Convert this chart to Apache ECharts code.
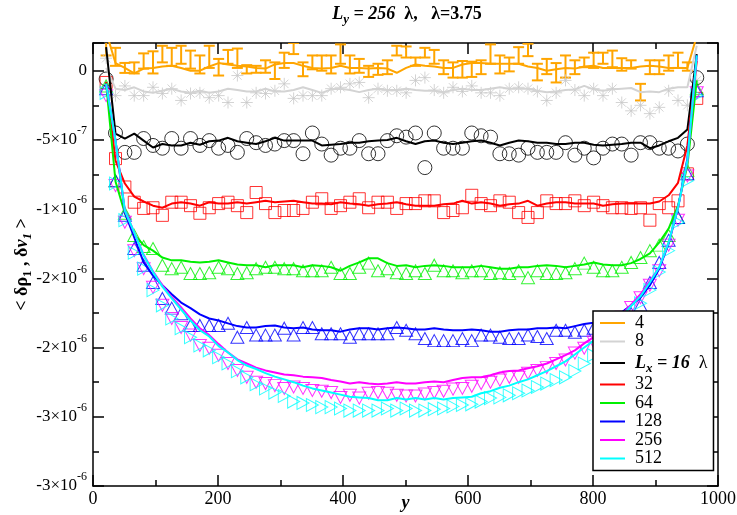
<!DOCTYPE html>
<html>
<head>
<meta charset="utf-8">
<script src="https://cdn.jsdelivr.net/npm/echarts@6/dist/echarts.min.js"></script>
<style>
  html, body { margin: 0; padding: 0; background: #fff; }
  #chart { width: 737px; height: 515px; }
</style>
</head>
<body>
<div id="chart"></div>
<script>
// y values are in units of 1e-7
const xs = [21, 36, 51, 66, 81, 96, 111, 126, 141, 156, 171, 186, 201, 216, 231, 246, 261, 276, 291, 306,
  321, 336, 351, 366, 381, 396, 411, 426, 441, 456, 471, 486, 501, 516, 531, 546, 561, 576, 591, 606,
  621, 636, 651, 666, 681, 696, 711, 726, 741, 756, 771, 786, 801, 816, 831, 846, 861, 876, 891, 906,
  921, 936, 951, 966];

const line4 = [2.8, 0.55, 0.2, -0.2, 0.15, 0.2, 0.3, 0.35, 0.2, 0,
  0, 0.3, 0.55, 0.45, 0.35, 0.3, 0.2, 0.15, 0.45, 0.55,
  0.55, 0.35, 0.2, 0.15, 0.2, 0.35, 0.2, 0.2, 0.15, 0.2,
  0.15, -0.15, 0.2, 0.45, 0.35, 0.3, 0.2, 0.2, 0.45, 0.55,
  0.55, 0.5, 0.5, 0.5, 0.5, 0.3, 0.2, 0, 0.1, 0.2,
  0.15, 0.3, 0.35, 0.2, 0.2, 0.2, 0.2, 0.3, 0.35, 0.3,
  0.2, 0.2, 0.2, 2.5];
const mean4 = [1.6, 1.0, 0.2, 0.2, 0.7, 0.6, 1.2, 1.0, 1.15, 0.8,
  0.45, 1.0, 0.25, 1.0, 0.9, 0.1, 0.1, 0.3, 0.0, 0.75,
  1.6, 0.1, 0.6, 0.55, 0.45, 1.2, 0.45, 0.35, -0.05, 0.1,
  0.25, 1.45, 1.35, 0.65, 1.3, 1.0, 0.25, 0.05, 0.1, 0.1,
  0.25, 1.2, 0.45, 0.45, 1.1, 1.5, -0.1, 0.3, -0.15, 0.3,
  0.25, 0.6, 0.75, 0.9, 0.85, 0.45, 0.45, -1.55, 0.25, 0.25,
  0.55, 0.75, 0.3, 2.4];
const err4 = [0.5, 0.65, 0.36, 0.4, 0.55, 0.8, 0.6, 0.65, 0.65, 0.65,
  0.65, 0.8, 0.6, 0.5, 0.7, 0.3, 0.25, 0.45, 0.6, 0.55,
  0.4, 0.5, 0.5, 0.55, 0.65, 0.7, 0.65, 0.5, 0.4, 0.4,
  0.5, 0.35, 0.4, 0.3, 0.35, 0.5, 0.5, 0.55, 0.6, 0.55,
  0.5, 0.7, 0.65, 0.5, 0.6, 0.45, 0.6, 0.55, 0.7, 0.8,
  0.5, 0.35, 0.55, 0.4, 0.6, 0.45, 0.3, 0.6, 0.5, 0.5,
  0.55, 0.55, 0.3, 0.3];

const line8 = [0.2, -1.3, -1.4, -1.2, -1.5, -1.6, -1.45, -1.3, -1.5, -1.6,
  -1.45, -1.6, -1.5, -1.3, -1.4, -1.5, -1.5, -1.3, -1.5, -1.5,
  -1.4, -1.2, -1.4, -1.6, -1.35, -1.3, -1.4, -1.55, -1.4, -1.3,
  -1.4, -1.4, -1.3, -1.4, -1.45, -1.45, -1.55, -1.4, -1.3, -1.4,
  -1.4, -1.3, -1.2, -1.3, -1.3, -1.3, -1.45, -1.55, -1.5, -1.4,
  -1.35, -1.1, -1.35, -1.45, -1.35, -1.3, -1.25, -1.55, -1.5, -1.55,
  -1.3, -1.2, -1.2, 1.8];
const pts8 = [0.9, -1.8, -1.1, -1.8, -1.8, -1.2, -1.65, -1.3, -2.15, -1.65,
  -1.6, -1.95, -1.8, -2.3, -0.35, -2.3, -1.6, -1.65, -1.45, -0.95,
  -2.0, -1.8, -1.8, -1.8, -1.3, -1.2, -0.95, -0.85, -1.95, -1.3,
  -1.45, -1.45, -1.6, -0.7, -0.5, -1.4, -1.6, -1.2, -1.5, -1.1,
  -1.6, -1.6, -1.8, -1.3, -1.2, -1.3, -1.5, -2.15, -1.6, -0.7,
  -1.4, -1.8, -1.3, -1.8, -1.3, -2.3, -2.9, -2.5, -3.1, -2.65,
  -1.45, -2.15, -2.5, -0.7];

const line16 = [1.7, -4.55, -4.9, -4.55, -5.05, -5.55, -5.3, -5.4, -5.4, -5.2,
  -5.35, -5.1, -5.05, -4.85, -5.1, -5.2, -5.3, -5.1, -4.85, -5.05,
  -5.05, -5.05, -5.05, -5.4, -5.35, -5.3, -5.2, -5.2, -5.1, -5.05,
  -5.0, -4.85, -5.1, -5.3, -5.1, -5.05, -5.2, -5.3, -5.2, -5.1,
  -5.05, -5.2, -5.4, -5.2, -5.05, -5.1, -5.2, -5.2, -5.3, -5.3,
  -5.2, -5.2, -5.35, -5.4, -5.35, -5.3, -5.2, -5.2, -5.6, -5.4,
  -5.1, -4.85, -4.25, 1.2];
const pts16 = [-0.6, -4.5, -5.9, -5.9, -4.9, -5.4, -5.6, -4.9, -5.6, -4.9,
  -5.4, -5.05, -5.6, -5.4, -5.9, -4.9, -5.2, -5.4, -5.3, -5.05,
  -5.05, -6.0, -4.5, -5.3, -6.1, -5.6, -5.6, -5.05, -6.0, -6.0,
  -5.05, -4.7, -4.8, -4.5, -7.0, -4.5, -5.6, -5.6, -5.6, -4.5,
  -4.7, -4.8, -6.0, -6.0, -6.1, -5.6, -5.9, -5.9, -5.9, -5.2,
  -6.1, -5.6, -6.3, -5.6, -5.3, -5.3, -6.1, -5.2, -5.2, -5.6,
  -5.6, -5.8, -5.3, -0.5];

const line32 = [-0.8, -6.5, -8.15, -9.1, -9.45, -9.75, -9.9, -9.6, -9.5, -9.6,
  -9.75, -9.5, -9.6, -9.6, -9.5, -9.6, -9.5, -9.4, -9.5, -9.45,
  -9.4, -9.5, -9.6, -9.6, -9.65, -9.5, -9.6, -9.65, -9.75, -9.65,
  -9.6, -9.5, -9.65, -9.75, -9.75, -9.75, -9.65, -9.6, -9.4, -9.6,
  -9.5, -9.6, -9.75, -9.65, -9.6, -9.4, -9.75, -9.6, -9.5, -9.5,
  -9.6, -9.6, -9.6, -9.75, -9.65, -9.6, -9.6, -9.6, -9.6, -9.45,
  -9.0, -8.1, -5.4, 0.7];
const pts32 = [-0.85, -6.35, -8.4, -9.5, -9.95, -9.9, -10.45, -9.5, -9.5, -9.75,
  -10.3, -9.9, -9.6, -9.5, -9.75, -10.25, -8.8, -9.6, -10.25, -10.1,
  -10.1, -9.95, -9.5, -9.25, -9.95, -9.75, -9.5, -9.25, -9.9, -9.5,
  -9.5, -9.95, -9.6, -9.6, -9.4, -9.4, -10.25, -10.1, -9.9, -9.0,
  -9.6, -9.75, -9.4, -9.5, -10.25, -10.6, -10.25, -9.4, -9.6, -9.6,
  -9.4, -9.75, -9.5, -9.75, -9.9, -9.9, -9.95, -9.9, -10.8, -9.6,
  -9.9, -9.4, -7.45, -2.0];

const line64 = [-0.9, -8.0, -10.3, -11.85, -12.6, -13.0, -13.5, -13.7, -13.7, -13.8,
  -13.85, -13.8, -13.7, -13.85, -14.0, -14.05, -14.05, -14.2, -14.05, -14.05,
  -14.05, -14.2, -14.05, -14.1, -14.2, -14.45, -14.1, -13.85, -13.55, -13.55,
  -13.9, -14.1, -14.05, -14.2, -14.1, -14.05, -14.1, -14.2, -14.2, -14.2,
  -14.1, -14.2, -14.3, -14.3, -14.2, -14.2, -14.1, -14.05, -14.1, -14.2,
  -14.1, -14.0, -13.85, -14.0, -14.05, -14.05, -13.9, -13.6, -13.2, -12.4,
  -11.4, -9.75, -6.85, -0.7];
const pts64 = [-1.1, -7.95, -10.3, -11.9, -12.7, -12.85, -14.05, -14.3, -14.2, -14.65,
  -14.65, -14.6, -14.2, -14.3, -14.65, -14.6, -14.3, -14.2, -14.2, -14.3,
  -14.3, -14.45, -14.45, -14.45, -14.2, -14.65, -14.65, -14.2, -13.9, -14.45,
  -14.3, -14.6, -14.65, -14.45, -14.65, -14.05, -14.45, -14.45, -14.6, -14.45,
  -14.45, -14.65, -14.6, -14.65, -14.45, -14.95, -14.45, -14.65, -14.65, -14.6,
  -14.3, -13.9, -14.2, -14.45, -14.45, -14.2, -13.85, -13.5, -13.0, -12.6,
  -11.9, -10.6, -7.2, -1.3];

const line128 = [-0.95, -5.05, -10.25, -12.05, -13.85, -14.8, -15.5, -16.15, -16.75, -17.15,
  -17.6, -17.9, -18.05, -18.25, -18.45, -18.55, -18.55, -18.45, -18.4, -18.55,
  -18.6, -18.55, -18.7, -18.75, -18.75, -18.85, -18.7, -18.6, -18.6, -18.7,
  -18.6, -18.55, -18.6, -18.7, -18.7, -18.6, -18.7, -18.75, -18.75, -18.7,
  -18.75, -18.85, -18.85, -18.75, -18.7, -18.7, -18.6, -18.6, -18.55, -18.6,
  -18.45, -18.3, -18.2, -17.95, -17.75, -17.45, -16.95, -16.4, -15.5, -14.3,
  -12.5, -9.9, -6.35, 1.1];
const pts128 = [-1.3, -7.95, -10.45, -12.85, -14.05, -15.3, -16.45, -17.15, -17.55, -18.4,
  -18.4, -18.4, -18.4, -18.25, -19.25, -18.55, -19.1, -19.1, -19.1, -18.6,
  -19.1, -18.55, -18.55, -19.0, -19.0, -19.0, -19.25, -19.0, -19.0, -19.0,
  -19.0, -18.55, -18.75, -19.0, -19.35, -19.5, -19.5, -19.5, -19.35, -19.5,
  -19.1, -19.1, -19.25, -19.35, -19.35, -19.1, -19.2, -19.35, -18.75, -18.75,
  -18.9, -18.75, -18.6, -18.55, -18.25, -18.05, -17.55, -16.95, -15.3, -13.85,
  -12.25, -10.6, -7.45, -1.45];

const line256 = [-0.95, -5.05, -10.1, -11.7, -13.3, -14.5, -15.5, -16.35, -17.1, -17.9,
  -18.6, -19.1, -19.75, -20.35, -20.85, -21.15, -21.45, -21.65, -21.8, -21.95,
  -22.0, -22.1, -22.15, -22.2, -22.35, -22.45, -22.6, -22.5, -22.6, -22.65,
  -22.6, -22.5, -22.6, -22.6, -22.5, -22.45, -22.5, -22.35, -22.2, -22.15,
  -22.15, -22.0, -21.8, -21.7, -21.65, -21.5, -21.35, -21.15, -20.85, -20.55,
  -20.2, -19.7, -19.25, -18.75, -18.2, -17.6, -16.9, -16.15, -15.2, -14.2,
  -12.4, -9.9, -6.55, 1.0];
const pts256 = [-1.8, -8.3, -10.95, -13.0, -14.3, -15.65, -16.95, -17.9, -18.55, -19.1,
  -19.85, -20.05, -20.55, -21.15, -21.65, -22.15, -22.5, -22.6, -22.75, -22.95,
  -22.85, -22.95, -23.1, -23.15, -23.25, -23.6, -23.45, -23.65, -23.3, -23.25,
  -23.3, -23.45, -23.5, -23.5, -23.35, -23.25, -23.15, -23.0, -22.95, -22.8,
  -22.6, -22.5, -22.35, -22.15, -22.15, -21.85, -21.65, -21.45, -21.15, -20.9,
  -20.4, -20.05, -19.6, -19.05, -18.45, -17.8, -17.1, -16.4, -15.5, -14.45,
  -12.6, -10.8, -7.6, -1.6];

const line512 = [-0.95, -5.05, -10.1, -11.7, -13.35, -14.55, -15.6, -16.45, -17.25, -18.05,
  -18.75, -19.2, -19.9, -20.35, -20.9, -21.3, -21.55, -21.85, -22.1, -22.3,
  -22.5, -22.75, -22.95, -23.1, -23.25, -23.4, -23.55, -23.6, -23.65, -23.8,
  -23.8, -23.65, -23.75, -23.65, -23.75, -23.65, -23.75, -23.65, -23.6, -23.55,
  -23.3, -23.15, -22.9, -22.75, -22.5, -22.3, -22.0, -21.7, -21.35, -21.0,
  -20.5, -20.0, -19.5, -18.9, -18.3, -17.75, -17.0, -16.3, -15.3, -14.2,
  -12.4, -9.9, -6.5, 1.1];
const pts512 = [-1.6, -8.15, -10.8, -13.15, -14.3, -15.85, -16.95, -17.9, -18.6, -19.25,
  -19.85, -20.2, -20.7, -21.15, -21.7, -22.15, -22.65, -22.95, -23.25, -23.5,
  -23.9, -24.0, -24.15, -24.3, -24.3, -24.4, -24.55, -24.55, -24.55, -24.55,
  -24.4, -24.55, -24.4, -24.55, -24.55, -24.45, -24.4, -24.25, -24.15, -24.1,
  -23.9, -23.65, -23.6, -23.45, -23.3, -23.1, -22.85, -22.6, -22.35, -22.15,
  -21.7, -21.15, -20.55, -19.9, -19.25, -18.55, -17.7, -16.8, -15.85, -14.55,
  -13.0, -10.95, -7.95, -1.8];

const legendNames = ['4', '8', '16', '32', '64', '128', '256', '512'];
const xTickValues = [0, 200, 400, 600, 800, 1000];
const yTickValues = [0, -5, -10, -15, -20, -25, -30];
const yTickMant = ['0', '-5', '-1', '-2', '-2', '-3', '-3'];
const yTickExp = ['', '-7', '-6', '-6', '-6', '-6', '-6'];

const FONT = "'Liberation Serif', 'Times New Roman', serif";
const chart = echarts.init(document.getElementById('chart'), null, { renderer: 'canvas' });

const pairs = (ys) => xs.map((x, i) => [x, ys[i]]);

const sets = [
  { name: '4', color: '#ffa500', line: line4 },
  { name: '8', color: '#d3d3d3', line: line8, pts: pts8, mark: 'path://M0,-10L0,10M-10,0L10,0M-7,-7L7,7M-7,7L7,-7', size: 12, rot: 0, mcolor: '#c8c8c8' },
  { name: '16', color: '#000000', line: line16, pts: pts16, mark: 'circle', size: 14, rot: 0 },
  { name: '32', color: '#ff0000', line: line32, pts: pts32, mark: 'rect', size: 12, rot: 0 },
  { name: '64', color: '#00f000', line: line64, pts: pts64, mark: 'triangle', size: [13, 12], rot: 0 },
  { name: '128', color: '#0000ff', line: line128, pts: pts128, mark: 'triangle', size: [13, 12], rot: 0 },
  { name: '256', color: '#ff00ff', line: line256, pts: pts256, mark: 'triangle', size: [13, 12], rot: 180 },
  { name: '512', color: '#00ffff', line: line512, pts: pts512, mark: 'triangle', size: [13, 12], rot: -90 }
];

const series = [];
// error bars for Lx = 4
series.push({
  type: 'custom',
  name: 'err4',
  clip: true,
  data: xs.map((x, i) => [x, mean4[i], err4[i]]),
  encode: { x: 0, y: 1 },
  renderItem: function (params, api) {
    const x = api.value(0), m = api.value(1), e = api.value(2);
    const top = api.coord([x, m + e]);
    const bot = api.coord([x, m - e]);
    const st = { stroke: '#ffa500', lineWidth: 2 };
    return {
      type: 'group',
      children: [
        { type: 'line', shape: { x1: top[0], y1: top[1], x2: bot[0], y2: bot[1] }, style: st },
        { type: 'line', shape: { x1: top[0] - 5.5, y1: top[1], x2: top[0] + 5.5, y2: top[1] }, style: st },
        { type: 'line', shape: { x1: bot[0] - 5.5, y1: bot[1], x2: bot[0] + 5.5, y2: bot[1] }, style: st }
      ]
    };
  }
});
sets.forEach(function (s) {
  if (s.pts) {
    series.push({
      type: 'scatter',
      name: 'pts' + s.name,
      data: pairs(s.pts),
      symbol: s.mark,
      symbolSize: s.size,
      symbolRotate: s.rot,
      itemStyle: { color: 'transparent', borderColor: s.mcolor || s.color, borderWidth: 1 },
      emphasis: { disabled: true }
    });
  }
  series.push({
    type: 'line',
    name: s.name,
    data: pairs(s.line),
    symbol: 'none',
    showSymbol: false,
    clip: true,
    color: s.color,
    lineStyle: { color: s.color, width: 2 },
    emphasis: { disabled: true }
  });
});

const axisCommon = {
  axisLine: { show: true, onZero: false, lineStyle: { color: '#000', width: 1.5 } },
  axisTick: { show: true, inside: true, length: 11, lineStyle: { color: '#000', width: 1.5 } },
  minorTick: { show: true, splitNumber: 2, length: 6, lineStyle: { color: '#000', width: 1.5 } },
  splitLine: { show: false }
};

const txt = (size, extra) => Object.assign({ fontFamily: FONT, fontSize: size, color: '#000', verticalAlign: 'middle' }, extra || {});

const option = {
  backgroundColor: '#fff',
  animation: false,
  textStyle: { fontFamily: FONT },
  title: {
    text: '{bi|L}{sub|y}{bi| = 256}{n|  λ,   λ=3.75}',
    left: 404,
    top: 2,
    textAlign: 'center',
    padding: 3,
    textStyle: {
      fontFamily: FONT,
      rich: {
        bi: txt(18, { fontWeight: 'bold', fontStyle: 'italic', lineHeight: 18 }),
        sub: txt(13, { fontWeight: 'bold', fontStyle: 'italic', lineHeight: 13, padding: [12, 0, 0, 0] }),
        n: txt(18, { lineHeight: 18 })
      }
    }
  },
  legend: {
    data: legendNames,
    orient: 'vertical',
    left: 593,
    top: 311,
    icon: 'rect',
    itemWidth: 25,
    itemHeight: 2,
    itemGap: 0.5,
    padding: [3, 6, 3, 7],
    backgroundColor: '#fff',
    borderColor: '#000',
    borderWidth: 1.5,
    borderRadius: 0,
    selectedMode: false,
    formatter: function (name) {
      if (name === '16') return '{bi|L}{sub|x}{bi| = 16}{n|  λ}';
      return '{n|' + name + '}';
    },
    textStyle: {
      fontFamily: FONT,
      color: '#000',
      padding: [0, 0, 0, 5],
      rich: {
        n: txt(18, { lineHeight: 18 }),
        bi: txt(18, { fontWeight: 'bold', fontStyle: 'italic', lineHeight: 18 }),
        sub: txt(13, { fontWeight: 'bold', fontStyle: 'italic', lineHeight: 13, padding: [11, 0, 0, 0] })
      }
    }
  },
  grid: { left: 93, right: 19, top: 43, bottom: 29, containLabel: false, outerBoundsMode: 'none' },
  xAxis: [
    Object.assign({
      type: 'value', min: 0, max: 1000, interval: 200, position: 'bottom',
      name: 'y', nameLocation: 'middle', nameGap: 8, nameMoveOverlap: false,
      nameTextStyle: { fontFamily: FONT, fontSize: 18, fontWeight: 'bold', fontStyle: 'italic', color: '#000', verticalAlign: 'top' },
      axisLabel: {
        fontFamily: FONT, fontSize: 18, color: '#000', margin: 4,
        formatter: function (v) { return xTickValues.indexOf(v) < 0 ? '' : String(v); }
      }
    }, axisCommon),
    Object.assign({
      type: 'value', min: 0, max: 1000, interval: 200, position: 'top',
      axisLabel: { show: false }
    }, axisCommon)
  ],
  yAxis: [
    Object.assign({
      type: 'value', min: -30, max: 2, interval: 5, position: 'left',
      name: '{b|< δρ}{s|1}{b| , δ}{bi|v}{si|1}{b| >}',
      nameLocation: 'middle', nameGap: 62, nameRotate: 90, nameMoveOverlap: false,
      nameTextStyle: {
        fontFamily: FONT,
        rich: {
          b: txt(18, { fontWeight: 'bold', lineHeight: 18 }),
          bi: txt(18, { fontWeight: 'bold', fontStyle: 'italic', lineHeight: 18 }),
          s: txt(13, { fontWeight: 'bold', lineHeight: 13, padding: [11, 0, 0, 0] }),
          si: txt(13, { fontWeight: 'bold', fontStyle: 'italic', lineHeight: 13, padding: [11, 0, 0, 0] })
        }
      },
      axisLabel: {
        margin: 6,
        fontFamily: FONT,
        fontSize: 17,
        formatter: function (v) {
          const i = yTickValues.indexOf(v);
          if (i < 0) return '';
          if (!yTickExp[i]) return '{m|' + yTickMant[i] + '}';
          return '{m|' + yTickMant[i] + '×10}{e|' + yTickExp[i] + '}';
        },
        rich: {
          m: txt(17, { lineHeight: 18 }),
          e: txt(12, { lineHeight: 12, padding: [0, 0, 18, 0] })
        }
      }
    }, axisCommon),
    Object.assign({
      type: 'value', min: -30, max: 2, interval: 5, position: 'right',
      axisLabel: { show: false }
    }, axisCommon)
  ],
  series: series
};

chart.setOption(option);
</script>
</body>
</html>
